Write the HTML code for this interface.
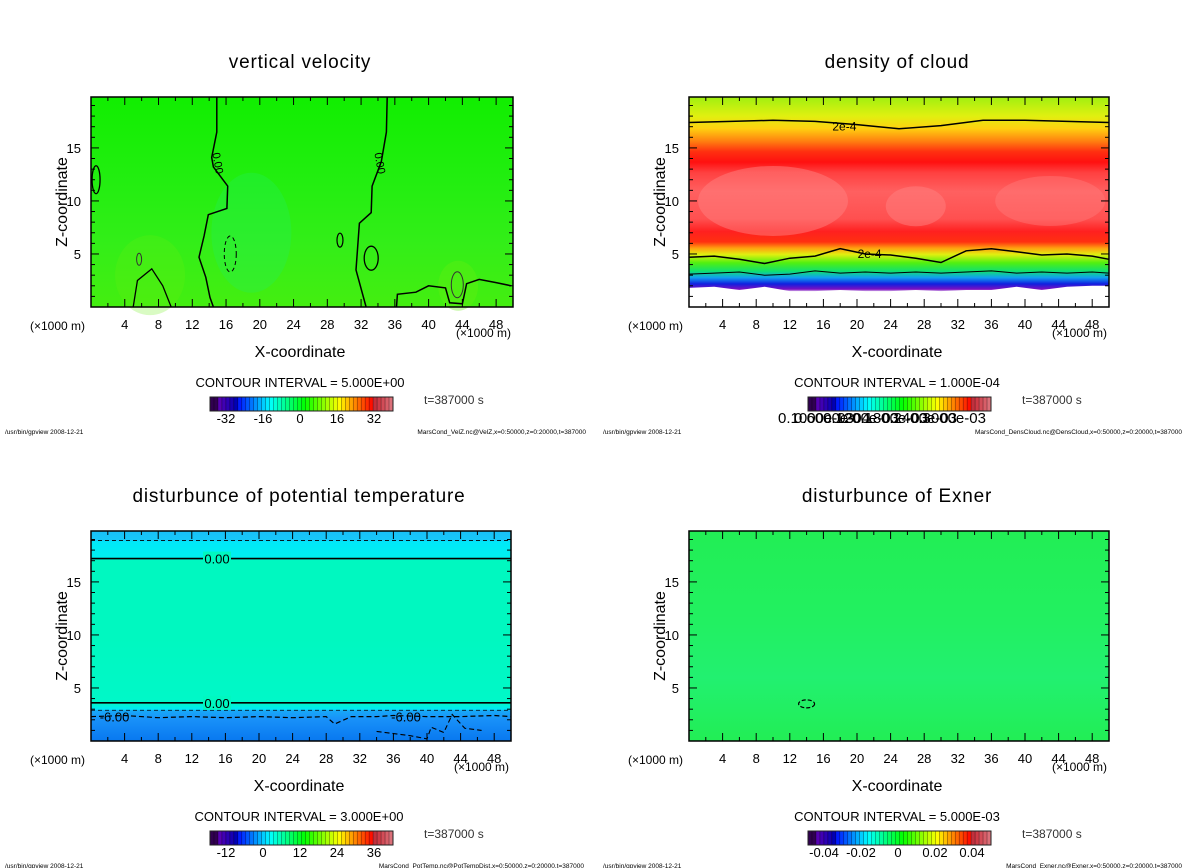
<!DOCTYPE html>
<html><head><meta charset="utf-8">
<style>
html,body{margin:0;padding:0;background:#fff;}
svg{display:block;font-family:"Liberation Sans",sans-serif;}
</style></head>
<body>
<svg id="fig" width="1200" height="868" viewBox="0 0 1200 868" xmlns="http://www.w3.org/2000/svg"></svg>
<script>
// ---- data ----
const xTicks = [4,8,12,16,20,24,28,32,36,40,44,48];
const zTicks = [5,10,15];
const titles = ["vertical velocity","density of cloud","disturbunce of potential temperature","disturbunce of Exner"];
const intervals = ["5.000E+00","1.000E-04","3.000E+00","5.000E-03"];
const footFiles = ["MarsCond_VelZ.nc@VelZ,x=0:50000,z=0:20000,t=387000","MarsCond_DensCloud.nc@DensCloud,x=0:50000,z=0:20000,t=387000","MarsCond_PotTemp.nc@PotTempDist,x=0:50000,z=0:20000,t=387000","MarsCond_Exner.nc@Exner,x=0:50000,z=0:20000,t=387000"];
const cbLabels0 = ["-32","-16","0","16","32"];
const cbLabels2 = ["-12","0","12","24","36"];
const cbLabels3 = ["-0.04","-0.02","0","0.02","0.04"];
const cbLabels1 = ["0.1000e-03","0.6000e-04","0.1200e-03","0.1800e-03","0.2400e-03","0.3000e-03"];
// velocity zero contours (x km, z km)
const velLine1X = [14.9,14.9,14.3,14.5,16.2,16.1,13.9,13.4,12.8,13.6,14.1,14.5];
const velLine1Z = [19.8,16.5,14.1,13.2,11.4,9.3,8.7,6.7,4.7,2.8,0.9,0];
const velLine2X = [35.1,35.0,34.4,33.3,33.2,31.8,31.4,32.6];
const velLine2Z = [19.8,16.5,13.7,11.4,8.9,7.9,3.5,0];
const velLine3X = [36.2,36.3,38.5,40.0,42.0,42.5,44.0,44.5,46.0,48.0,49.8];
const velLine3Z = [0,1.2,1.4,2.0,1.8,0.4,0.3,2.2,2.6,2.3,2.0];
// cloud contours
const cloudTopX = [0,5,10,15,20,25,30,35,40,45,50];
const cloudTopZ = [17.4,17.5,17.6,17.5,17.2,16.8,17.1,17.6,17.6,17.5,17.4];
const cloudLowX = [0,3,6,9,12,15,18,21,24,27,30,33,36,39,42,45,48,50];
const cloudLowZ = [4.7,4.8,4.5,4.1,4.6,4.8,5.5,5.0,4.9,4.6,4.2,5.3,5.5,5.2,4.9,5.0,4.8,4.5];
const cloudBaseX = [0,3,6,9,12,15,18,21,24,27,30,33,36,39,42,45,48,50];
const cloudBaseZ = [3.1,3.2,3.3,3.0,3.1,3.4,3.2,3.3,3.2,3.3,3.2,3.3,3.4,3.2,3.3,3.2,3.3,3.2];
const cloudBottomX = [0,3,6,9,12,15,18,21,24,27,30,33,36,39,42,45,48,50];
const cloudBottomZ = [1.8,1.9,1.6,1.9,1.5,1.5,1.6,1.5,1.5,1.6,1.5,1.6,1.6,1.9,1.6,1.9,2.0,2.0];
// potential temperature contours
const ptTopZ = 17.2, ptTopDashZ = 18.9, ptLowZ = 3.6, ptLowDashZ = 2.9;
const ptNegX = [0,4,8,12,16,20,24,28,29,31,34,36,40,44,48,50];
const ptNegZ = [2.3,2.4,2.2,2.3,2.2,2.3,2.2,2.3,1.6,2.3,2.3,2.4,2.3,2.3,2.4,2.3];

// ---- helpers ----
const NS="http://www.w3.org/2000/svg";
const svg=document.getElementById('fig');
function mk(tag,attrs,parent){const e=document.createElementNS(NS,tag);for(const k in attrs)e.setAttribute(k,attrs[k]);(parent||svg).appendChild(e);return e;}
function txt(s,x,y,size,anchor,parent,extra){const t=mk('text',Object.assign({x:x,y:y,'font-size':size,'text-anchor':anchor||'start',fill:'#000'},extra||{}),parent);t.textContent=s;return t;}

const panels=[{x0:91,y0:97,w:422,h:210},{x0:689,y0:97,w:420,h:210},{x0:91,y0:531,w:420,h:210},{x0:689,y0:531,w:420,h:210}];
const XMAX=50, ZMAX=19.8;
function sx(p,x){return p.x0+x/XMAX*p.w;}
function sz(p,z){return p.y0+p.h-z/ZMAX*p.h;}
function pathFrom(p,xs,zs){return xs.map((x,i)=>(i?'L':'M')+sx(p,x).toFixed(1)+','+sz(p,zs[i]).toFixed(1)).join(' ');}

function vgrad(id,stops){const g=mk('linearGradient',{id:id,x1:0,y1:1,x2:0,y2:0},defs);stops.forEach(s=>mk('stop',{offset:s[0],'stop-color':s[1]},g));}
const defs=mk('defs',{});
vgrad('gVel',[[0,'#44ee10'],[0.3,'#33ee18'],[0.6,'#22ee10'],[1,'#11ee00']]);
vgrad('gCloud',[[0,'#ffffff'],[0.07,'#ffffff'],[0.085,'#7a10c0'],[0.11,'#1020e0'],[0.14,'#10a0f0'],[0.17,'#10e070'],[0.21,'#50f010'],[0.25,'#e0f010'],[0.28,'#ffa010'],[0.31,'#ff3010'],[0.36,'#ff2020'],[0.42,'#ff5050'],[0.55,'#ff6060'],[0.64,'#ff4040'],[0.69,'#ff1010'],[0.74,'#ff3010'],[0.79,'#ff8010'],[0.85,'#ffd010'],[0.91,'#e0f010'],[1,'#a0f010']]);
vgrad('gPT',[[0,'#0878f0'],[0.1,'#1890f8'],[0.145,'#18a8f8'],[0.15,'#00e8f8'],[0.18,'#00f8c8'],[0.5,'#00f8c0'],[0.86,'#00f8c0'],[0.87,'#00f0f0'],[0.95,'#00e8f8'],[0.955,'#18c8f8'],[1,'#18c0f8']]);
vgrad('gEx',[[0,'#22ee55'],[0.3,'#22f070'],[0.6,'#22f060'],[1,'#22ee55']]);
const fills=['url(#gVel)','url(#gCloud)','url(#gPT)','url(#gEx)'];
const names=['vertical-velocity','density-of-cloud','potential-temperature','exner'];
const cbs=[cbLabels0,null,cbLabels2,cbLabels3];

panels.forEach((p,i)=>{
  const g=mk('g',{});
  
  
  const cx=p.x0+p.w/2-2;
  const t=txt(titles[i],cx,p.y0-29,19,'middle',g,{'letter-spacing':'0.8'});
  
  
  const bg=mk('rect',{x:p.x0,y:p.y0,width:p.w,height:p.h,fill:fills[i]},g);
  
  
  if(i===0){
    mk('ellipse',{cx:sx(p,19),cy:sz(p,7),rx:40,ry:60,fill:'#22f060',opacity:0.3},g);
    mk('ellipse',{cx:sx(p,7),cy:sz(p,3),rx:35,ry:40,fill:'#66ee10',opacity:0.25},g);
    mk('ellipse',{cx:sx(p,43.5),cy:sz(p,2),rx:20,ry:25,fill:'#66ee10',opacity:0.35},g);
    [[velLine1X,velLine1Z],[velLine2X,velLine2Z],[velLine3X,velLine3Z]].forEach(a=>{
      const l=mk('path',{d:pathFrom(p,a[0],a[1]),fill:'none',stroke:'#000','stroke-width':1.5},g);
      
      
    });
    mk('ellipse',{cx:sx(p,16.5),cy:sz(p,5),rx:6,ry:18,fill:'none',stroke:'#000','stroke-dasharray':'4,3'},g);
    mk('ellipse',{cx:sx(p,0.6),cy:sz(p,12),rx:4,ry:14,fill:'none',stroke:'#000','stroke-width':1.3},g);
    mk('ellipse',{cx:sx(p,33.2),cy:sz(p,4.6),rx:7,ry:12,fill:'none',stroke:'#000','stroke-width':1.3},g);
    mk('ellipse',{cx:sx(p,29.5),cy:sz(p,6.3),rx:3,ry:7,fill:'none',stroke:'#000','stroke-width':1.2},g);
    mk('ellipse',{cx:sx(p,43.4),cy:sz(p,2.1),rx:6,ry:13,fill:'none',stroke:'#333','stroke-width':1},g);
    mk('ellipse',{cx:sx(p,5.7),cy:sz(p,4.5),rx:2.5,ry:6,fill:'none',stroke:'#333','stroke-width':1},g);
    mk('path',{d:`M${sx(p,5)},${sz(p,0)} L${sx(p,5.5)},${sz(p,2.5)} L${sx(p,7.2)},${sz(p,3.6)} L${sx(p,8.5)},${sz(p,2)} L${sx(p,9.5)},${sz(p,0)}`,fill:'none',stroke:'#000','stroke-width':1.3},g);
    txt('0.00',sx(p,14.6),sz(p,13.5),11,'middle',g,{transform:`rotate(80 ${sx(p,14.6)} ${sz(p,13.5)})`});
    txt('0.00',sx(p,33.8),sz(p,13.5),11,'middle',g,{transform:`rotate(80 ${sx(p,33.8)} ${sz(p,13.5)})`});
  }
  if(i===1){
    mk('ellipse',{cx:sx(p,10),cy:sz(p,10),rx:75,ry:35,fill:'#ff8080',opacity:0.5},g);
    mk('ellipse',{cx:sx(p,27),cy:sz(p,9.5),rx:30,ry:20,fill:'#ff8080',opacity:0.5},g);
    mk('ellipse',{cx:sx(p,43),cy:sz(p,10),rx:55,ry:25,fill:'#ff8080',opacity:0.4},g);
    [[cloudTopX,cloudTopZ,1.5],[cloudLowX,cloudLowZ,1.5],[cloudBaseX,cloudBaseZ,1]].forEach(a=>{
      const l=mk('path',{d:pathFrom(p,a[0],a[1]),fill:'none',stroke:'#000','stroke-width':a[2]},g);
      
      
    });
    const d=pathFrom(p,cloudBottomX,cloudBottomZ)+` L${sx(p,50)},${sz(p,0)} L${sx(p,0)},${sz(p,0)} Z`;
    mk('path',{d:d,fill:'#ffffff'},g);
    txt('2e-4',sx(p,18.5),sz(p,17.0)+4,12,'middle',g);
    txt('2e-4',sx(p,21.5),sz(p,5.0)+4,12,'middle',g);
  }
  if(i===2){
    [[ptTopZ,'',1.6],[ptLowZ,'',1.6],[ptTopDashZ,'4,3',0.8],[ptLowDashZ,'4,3',0.8]].forEach(a=>{
      const l=mk('line',{x1:p.x0,x2:p.x0+p.w,y1:sz(p,a[0]),y2:sz(p,a[0]),stroke:'#000','stroke-width':a[2],'stroke-dasharray':a[1]},g);
      
      
    });
    const n=mk('path',{d:pathFrom(p,ptNegX,ptNegZ),fill:'none',stroke:'#000','stroke-width':1.2,'stroke-dasharray':'5,3'},g);
    
    
    mk('path',{d:`M${sx(p,34)},${sz(p,0.9)} L${sx(p,38)},${sz(p,0.5)} L${sx(p,40)},${sz(p,0.2)} L${sx(p,40.5)},${sz(p,1.3)} L${sx(p,42)},${sz(p,0.8)} L${sx(p,43)},${sz(p,2.5)} L${sx(p,44.5)},${sz(p,1.2)} L${sx(p,46.5)},${sz(p,1)}`,fill:'none',stroke:'#000','stroke-width':1.1,'stroke-dasharray':'5,3'},g);
    [[ptTopZ,'0.00',15],[ptLowZ,'0.00',15]].forEach(a=>{
      mk('rect',{x:sx(p,a[2])-14,y:sz(p,a[0])-7,width:28,height:14,fill:'#00f8c0'},g);
      txt(a[1],sx(p,a[2]),sz(p,a[0])+5,13,'middle',g);
    });
    txt('-6.00',sx(p,2.8),sz(p,2.3)+5,13,'middle',g);
    txt('-6.00',sx(p,37.5),sz(p,2.3)+5,13,'middle',g);
  }
  if(i===3){
    mk('ellipse',{cx:sx(p,14),cy:sz(p,3.5),rx:8,ry:4,fill:'none',stroke:'#000','stroke-dasharray':'4,2','stroke-width':1.2},g);
  }
  const fr=mk('rect',{x:p.x0,y:p.y0,width:p.w,height:p.h,fill:'none',stroke:'#000','stroke-width':1.5},g);
  
  
  for(let x=2;x<XMAX;x+=2){const L=(x%4===0)?8:4;
    mk('line',{x1:sx(p,x),x2:sx(p,x),y1:p.y0+p.h,y2:p.y0+p.h-L,stroke:'#000'},g);
    mk('line',{x1:sx(p,x),x2:sx(p,x),y1:p.y0,y2:p.y0+L,stroke:'#000'},g);}
  for(let z=1;z<ZMAX;z+=1){const L=(z%5===0)?8:4;
    mk('line',{x1:p.x0,x2:p.x0+L,y1:sz(p,z),y2:sz(p,z),stroke:'#000'},g);
    mk('line',{x1:p.x0+p.w,x2:p.x0+p.w-L,y1:sz(p,z),y2:sz(p,z),stroke:'#000'},g);}
  xTicks.forEach(x=>{const t=txt(String(x),sx(p,x),p.y0+p.h+22,13,'middle',g);
    
    });
  zTicks.forEach(z=>{const t=txt(String(z),p.x0-10,sz(p,z)+5,13,'end',g);
    
    });
  txt('(×1000 m)',p.x0-61,p.y0+p.h+23,12,'start',g);
  txt('(×1000 m)',p.x0+p.w-57,p.y0+p.h+30,12,'start',g);
  const xl=txt('X-coordinate',cx,p.y0+p.h+50,16,'middle',g);
  
  
  const zy=p.y0+p.h/2;
  const zl=txt('Z-coordinate',p.x0-24,zy,16,'middle',g,{transform:`rotate(-90 ${p.x0-24} ${zy})`});
  
  
  txt('CONTOUR INTERVAL = '+intervals[i],cx,p.y0+p.h+80,13,'middle',g);
  const cbx=p.x0+119, cby=p.y0+p.h+90, cbw=183, cbh=14;
  const cbg=mk('g',{},g);
  
  
  const N=46;
  for(let k=0;k<N;k++){const f=k/(N-1);
    let col;
    if(f<0.04) col='#300050';
    else if(f<0.9){const h=270-(f-0.04)/0.86*270; const l=f<0.15?35:50; col=`hsl(${h},100%,${l}%)`;}
    else col=`hsl(355,60%,${45+(f-0.9)*200}%)`;
    mk('rect',{x:cbx+k*cbw/N,y:cby,width:cbw/N+0.3,height:cbh,fill:col},cbg);
    mk('line',{x1:cbx+k*cbw/N,x2:cbx+k*cbw/N,y1:cby,y2:cby+cbh,stroke:'#000','stroke-width':0.5,opacity:0.6},cbg);}
  mk('rect',{x:cbx,y:cby,width:cbw,height:cbh,fill:'none',stroke:'#222','stroke-width':1},cbg);
  if(cbs[i]){cbs[i].forEach((s,k)=>{txt(s,cbx+16+k*37,cby+26,13,'middle',g);});}
  else{cbLabels1.forEach((s,k)=>{txt(s,cbx-30+k*29+(k===0?0:25),cby+26,15,k===0?'start':'middle',g);});}
  txt('t=387000 s',p.x0+333,p.y0+p.h+97,12,'start',g,{fill:'#333'});
  txt('/usr/bin/gpview   2008-12-21',p.x0-86,p.y0+p.h+127,6.5,'start',g);
  txt(footFiles[i],p.x0+p.w+73,p.y0+p.h+127,6.5,'end',g);
});
</script>
</body></html>
